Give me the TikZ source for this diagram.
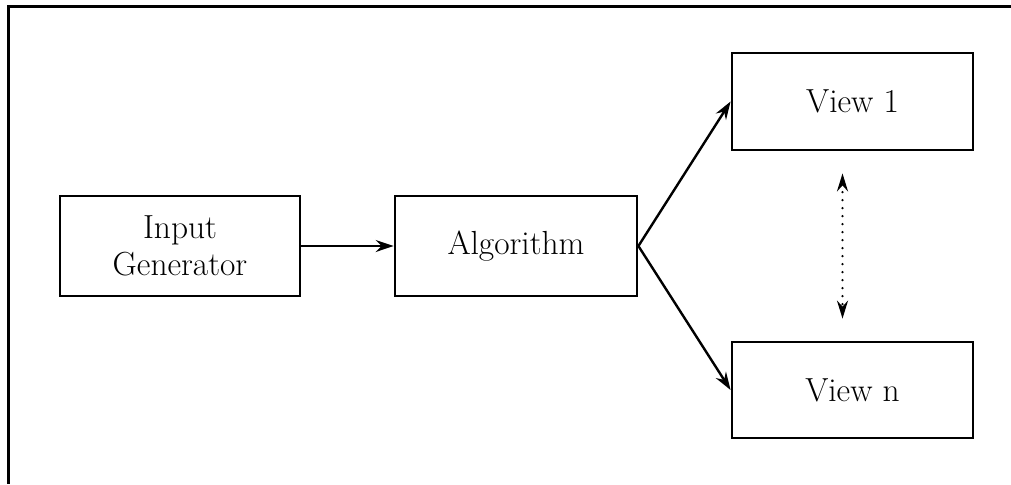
\documentclass[tikz,border=0pt]{standalone}
\usetikzlibrary{arrows.meta}
\begin{document}
\begin{tikzpicture}[x=0.5pt,y=-0.5pt,
  boxnode/.style={draw,line width=1.4pt,inner sep=0pt,align=center,
    font=\fontsize{16.7}{18.5}\selectfont},
  conn/.style={line width=1.2pt,-{Stealth[length=9pt,width=6pt,inset=3pt]}},
  dotarrow/.style={line width=1.3pt,dash pattern=on 0pt off 4pt,line cap=round,
    {Stealth[length=9pt,width=5.5pt,inset=3pt,line cap=butt]}-{Stealth[length=9pt,width=5.5pt,inset=3pt,line cap=butt]}}]
\useasboundingbox (0,0) rectangle (1011,484);
% outer frame (cropped on right and bottom)
\draw[line width=1.5pt] (1011,6) -- (8,6) -- (8,484);
\node[boxnode,minimum width=120pt,minimum height=50pt] (in) at (180,246) {Input\\Generator};
\node[boxnode,minimum width=121pt,minimum height=50pt] (alg) at (516,246) {Algorithm};
\node[boxnode,minimum width=120.5pt,minimum height=48.5pt] (v1) at (852.5,101.5) {View 1};
\node[boxnode,minimum width=120.5pt,minimum height=48pt] (vn) at (852.5,390) {View n};
\draw[conn] (in.east) -- (alg.west);
\draw[conn] (alg.east) -- (v1.west);
\draw[conn] (alg.east) -- (vn.west);
\coordinate (d1) at ([xshift=-5pt]v1.south);
\coordinate (d2) at ([xshift=-5pt]vn.north);
\draw[dotarrow,shorten <=11pt,shorten >=11pt] (d1) -- (d2);
\end{tikzpicture}
\end{document}
